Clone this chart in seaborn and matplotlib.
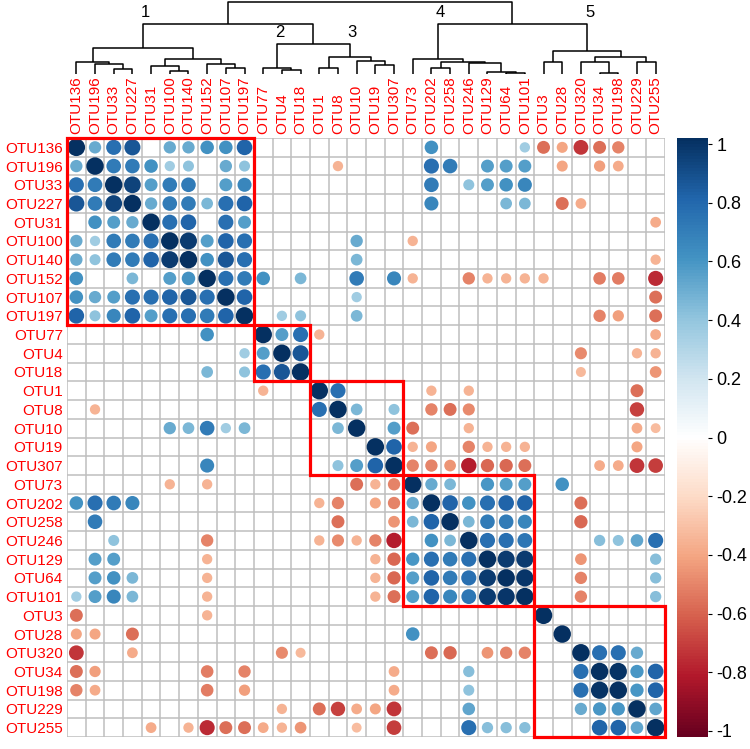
import numpy as np
import pandas as pd
import matplotlib
matplotlib.use("Agg")
import matplotlib.pyplot as plt
import matplotlib.cm as cm
from matplotlib.colors import LinearSegmentedColormap, Normalize
from matplotlib.patches import Rectangle
import seaborn as sns

# ---------------- data ----------------
otus = ["OTU136", "OTU196", "OTU33", "OTU227", "OTU31", "OTU100", "OTU140", "OTU152",
        "OTU107", "OTU197", "OTU77", "OTU4", "OTU18", "OTU1", "OTU8", "OTU10", "OTU19",
        "OTU307", "OTU73", "OTU202", "OTU258", "OTU246", "OTU129", "OTU64", "OTU101",
        "OTU3", "OTU28", "OTU320", "OTU34", "OTU198", "OTU229", "OTU255"]

cluster_sizes = [10, 3, 5, 7, 7]
cluster_names = ["1", "2", "3", "4", "5"]

# upper-triangle correlations (row index, column index, r); blanks are not significant
pairs = [
    (0, 1, 0.5), (0, 2, 0.75), (0, 3, 0.85), (0, 5, 0.5), (0, 6, 0.5), (0, 7, 0.6), (0, 8, 0.6),
    (0, 9, 0.8), (0, 19, 0.6), (0, 24, 0.35), (0, 25, -0.55), (0, 26, -0.4), (0, 27, -0.72),
    (0, 28, -0.55), (0, 29, -0.5),
    (1, 2, 0.7), (1, 3, 0.7), (1, 4, 0.6), (1, 5, 0.35), (1, 6, 0.4), (1, 8, 0.5), (1, 9, 0.4),
    (1, 14, -0.35), (1, 19, 0.75), (1, 20, 0.7), (1, 22, 0.55), (1, 23, 0.55), (1, 24, 0.55),
    (1, 26, -0.4), (1, 28, -0.42), (1, 29, -0.38),
    (2, 3, 0.92), (2, 4, 0.55), (2, 5, 0.7), (2, 6, 0.7), (2, 8, 0.55), (2, 9, 0.65), (2, 19, 0.7),
    (2, 21, 0.4), (2, 22, 0.55), (2, 23, 0.6), (2, 24, 0.65),
    (3, 4, 0.5), (3, 5, 0.7), (3, 6, 0.7), (3, 7, 0.45), (3, 8, 0.75), (3, 9, 0.8), (3, 19, 0.65),
    (3, 23, 0.45), (3, 24, 0.45), (3, 26, -0.55), (3, 27, -0.38),
    (4, 5, 0.75), (4, 6, 0.8), (4, 8, 0.75), (4, 9, 0.55), (4, 31, -0.38),
    (5, 6, 0.95), (5, 7, 0.55), (5, 8, 0.8), (5, 9, 0.75), (5, 15, 0.5), (5, 18, -0.35),
    (6, 7, 0.6), (6, 8, 0.85), (6, 9, 0.75), (6, 15, 0.45), (6, 31, -0.35),
    (7, 8, 0.75), (7, 9, 0.7), (7, 10, 0.6), (7, 12, 0.45), (7, 15, 0.7), (7, 17, 0.65),
    (7, 18, -0.35), (7, 21, -0.5), (7, 22, -0.35), (7, 23, -0.35), (7, 24, -0.35), (7, 25, -0.35),
    (7, 28, -0.52), (7, 29, -0.52), (7, 31, -0.75),
    (8, 9, 0.8), (8, 15, 0.35), (8, 31, -0.55),
    (9, 11, 0.35), (9, 12, 0.4), (9, 15, 0.45), (9, 28, -0.5), (9, 29, -0.42), (9, 31, -0.55),
    (10, 11, 0.55), (10, 12, 0.75), (10, 13, -0.35), (10, 31, -0.38),
    (11, 12, 0.85), (11, 27, -0.48), (11, 30, -0.35), (11, 31, -0.35),
    (12, 27, -0.33), (12, 31, -0.45),
    (13, 14, 0.75), (13, 19, -0.35), (13, 21, -0.35), (13, 30, -0.55),
    (14, 15, 0.45), (14, 17, 0.4), (14, 19, -0.5), (14, 20, -0.55), (14, 21, -0.48), (14, 30, -0.68),
    (15, 17, 0.55), (15, 18, -0.55), (15, 21, -0.35), (15, 30, -0.38), (15, 31, -0.32),
    (16, 17, 0.8), (16, 18, -0.35), (16, 19, -0.4), (16, 21, -0.5), (16, 22, -0.35), (16, 23, -0.35),
    (16, 24, -0.35), (16, 30, -0.4),
    (17, 18, -0.5), (17, 19, -0.5), (17, 20, -0.45), (17, 21, -0.78), (17, 22, -0.58), (17, 23, -0.58),
    (17, 24, -0.55), (17, 28, -0.38), (17, 29, -0.38), (17, 30, -0.72), (17, 31, -0.7),
    (18, 19, 0.5), (18, 20, 0.45), (18, 22, 0.58), (18, 23, 0.55), (18, 24, 0.55), (18, 26, 0.6),
    (19, 20, 0.8), (19, 21, 0.6), (19, 22, 0.75), (19, 23, 0.8), (19, 24, 0.8), (19, 27, -0.55),
    (20, 21, 0.45), (20, 22, 0.7), (20, 23, 0.7), (20, 24, 0.65), (20, 27, -0.58),
    (21, 22, 0.75), (21, 23, 0.75), (21, 24, 0.72), (21, 28, 0.42), (21, 29, 0.4), (21, 30, 0.52),
    (21, 31, 0.75),
    (22, 23, 0.95), (22, 24, 0.95), (22, 27, -0.45), (22, 31, 0.42),
    (23, 24, 0.97), (23, 27, -0.5), (23, 31, 0.42),
    (24, 27, -0.5), (24, 31, 0.42),
    (27, 28, 0.75), (27, 29, 0.75), (27, 30, 0.5),
    (28, 29, 0.98), (28, 30, 0.58), (28, 31, 0.8),
    (29, 30, 0.58), (29, 31, 0.8),
    (30, 31, 0.52),
]

# hierarchical clustering merges (child a, child b, merge height); new nodes numbered from 32
merges = [
    (2, 3, 15), (1, 32, 30), (0, 33, 35), (5, 6, 10), (4, 35, 24), (8, 9, 19), (7, 37, 30),
    (36, 38, 44), (34, 39, 79),
    (11, 12, 12), (10, 41, 19),
    (13, 14, 19), (16, 17, 27), (15, 44, 39), (43, 45, 50),
    (42, 46, 89), (40, 47, 150),
    (19, 20, 19), (23, 24, 4), (22, 50, 7), (21, 51, 32), (49, 52, 37), (18, 53, 44),
    (25, 26, 37), (28, 29, 4), (27, 56, 35), (30, 31, 37), (57, 58, 52), (55, 59, 70),
    (54, 60, 150), (48, 61, 217),
]
cluster_nodes = [40, 42, 46, 54, 60]
cluster_parents = [48, 47, 47, 61, 61]

cbar_ticks = [1, 0.8, 0.6, 0.4, 0.2, 0, -0.2, -0.4, -0.6, -0.8, -1]

# ---------------- style ----------------
rdbu_colors = ["#67001F", "#B2182B", "#D6604D", "#F4A582", "#FDDBC7", "#FFFFFF",
               "#D1E5F0", "#92C5DE", "#4393C3", "#2166AC", "#053061"]
cmap = LinearSegmentedColormap.from_list("corrRdBu", rdbu_colors, N=200)

sns.set_theme(style="white")
plt.rcParams["font.family"] = ["Liberation Sans", "DejaVu Sans"]

n = len(otus)
M = np.full((n, n), np.nan)
np.fill_diagonal(M, 1.0)
for i, j, r in pairs:
    M[i, j] = r
    M[j, i] = r
rows, cols = np.where(~np.isnan(M))
df = pd.DataFrame({"row": rows, "col": cols, "r": M[rows, cols]})
df["absr"] = df["r"].abs()

W, H = 750, 749
fig = plt.figure(figsize=(W / 100, H / 100), dpi=100)
fig.patch.set_facecolor("white")


def ax_px(l, t, r, b):
    return fig.add_axes([l / W, 1 - b / H, (r - l) / W, (b - t) / H])


# ---------------- correlation matrix ----------------
ax = ax_px(67, 138, 665, 737)
ax.set_xlim(-0.5, n - 0.5)
ax.set_ylim(n - 0.5, -0.5)
grid_pos = np.arange(n + 1) - 0.5
ax.vlines(grid_pos, -0.5, n - 0.5, color="#BEBEBE", lw=1.1, zorder=1)
ax.hlines(grid_pos, -0.5, n - 0.5, color="#BEBEBE", lw=1.1, zorder=1)

sns.scatterplot(data=df, x="col", y="row", hue="r", size="absr", palette=cmap,
                hue_norm=(-1, 1), sizes=(0, 158), size_norm=(0, 1), legend=False,
                linewidth=0, ax=ax, zorder=2)

start = 0
for s in cluster_sizes:
    ax.add_patch(Rectangle((start - 0.5, start - 0.5), s, s, fill=False, ec="#FF0000",
                           lw=2.3, zorder=3, clip_on=False))
    start += s

ax.set_xticks(range(n))
ax.set_xticklabels(otus, rotation=90)
ax.set_yticks(range(n))
ax.set_yticklabels(otus)
ax.xaxis.tick_top()
ax.tick_params(axis="both", length=0, labelsize=11, labelcolor="#FF0000")
ax.tick_params(axis="x", pad=3)
ax.tick_params(axis="y", pad=3)
ax.set_xlabel("")
ax.set_ylabel("")
for sp in ax.spines.values():
    sp.set_visible(False)

# ---------------- dendrogram ----------------
dax = ax_px(67, 1.67, 665, 74)
dax.set_xlim(-0.5, n - 0.5)
dax.set_ylim(0, 217)
dax.axis("off")
pos = {i: float(i) for i in range(n)}
hgt = {i: 0.0 for i in range(n)}
for k, (a, b, h) in enumerate(merges):
    dax.plot([pos[a], pos[a], pos[b], pos[b]], [hgt[a], h, h, hgt[b]],
             color="black", lw=1.1, solid_capstyle="butt", clip_on=False)
    pos[n + k] = (pos[a] + pos[b]) / 2
    hgt[n + k] = h
for name, node, parent in zip(cluster_names, cluster_nodes, cluster_parents):
    dax.annotate(name, (pos[node], hgt[parent]), xytext=(2, 3), textcoords="offset points",
                 ha="center", va="bottom", fontsize=12, color="black")

# ---------------- colour legend ----------------
cax = ax_px(677, 138, 708, 737)
cb = fig.colorbar(cm.ScalarMappable(norm=Normalize(-1.0205, 1.0205), cmap=cmap),
                  cax=cax, ticks=cbar_ticks)
cb.set_ticklabels([f"{v:g}" for v in cbar_ticks])
cb.outline.set_visible(False)
cax.tick_params(length=3, width=0.8, labelsize=13, pad=3, colors="black")

fig.savefig("out.png", dpi=100)
